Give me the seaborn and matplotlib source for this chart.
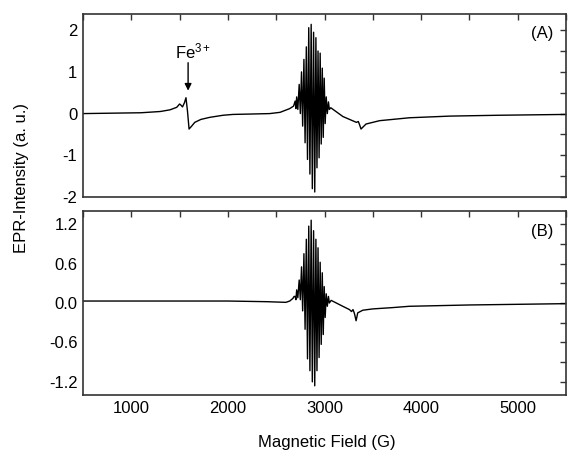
import pandas as pd
import matplotlib
matplotlib.use("Agg")
import matplotlib.pyplot as plt
from matplotlib.ticker import MultipleLocator, FormatStrFormatter
import seaborn as sns

# Panel (A): EPR spectrum with the Fe3+ signal near 1580 G
field_a = [500, 800, 1100, 1300, 1400, 1470, 1500, 1515, 1530, 1550, 1566,
           1582, 1598, 1625, 1657, 1720, 1812, 1950, 2053, 2250, 2432, 2540,
           2640, 2680,
           2696, 2704, 2712, 2724, 2738, 2750, 2762, 2774, 2787, 2799, 2812,
           2824, 2837, 2849, 2862, 2874, 2887, 2899, 2911, 2922, 2933, 2944,
           2955, 2966, 2977, 2987, 2997, 3007, 3018, 3029, 3041, 3050,
           3065, 3190, 3330, 3350, 3362, 3378, 3430, 3570, 3880, 4300, 4800,
           5500]
intensity_a = [0.0, 0.01, 0.02, 0.05, 0.09, 0.15, 0.23, 0.20, 0.16, 0.26, 0.38,
               0.05, -0.37, -0.30, -0.21, -0.14, -0.09, -0.04, -0.02, -0.01,
               0.0, 0.03, 0.12, 0.18,
               0.30, 0.12, 0.40, 0.10, 0.70, 0.00, 1.00, -0.30, 1.30, -0.70,
               1.60, -1.10, 2.06, -1.45, 2.14, -1.80, 1.95, -1.88, 1.82, -1.30,
               1.50, -1.06, 1.45, -0.73, 1.09, -0.57, 0.85, -0.24, 0.40, 0.00,
               0.28, 0.10,
               0.14, -0.07, -0.21, -0.19, -0.26, -0.37, -0.25, -0.17, -0.10,
               -0.06, -0.04, -0.02]

# Panel (B): EPR spectrum without the Fe3+ signal
field_b = [500, 1000, 1500, 2000, 2400, 2600, 2640, 2673, 2685,
           2696, 2704, 2712, 2724, 2738, 2750, 2762, 2774, 2787, 2799, 2812,
           2824, 2837, 2849, 2862, 2874, 2887, 2899, 2911, 2922, 2933, 2944,
           2955, 2966, 2977, 2987, 2997, 3007, 3018, 3029, 3041, 3050,
           3069, 3189, 3258, 3280, 3295, 3310, 3327, 3344, 3396, 3499, 3706,
           3878, 4500, 5500]
intensity_b = [0.03, 0.03, 0.03, 0.03, 0.02, 0.01, 0.03, 0.07, 0.10,
               0.10, 0.05, 0.20, 0.08, 0.35, 0.05, 0.55, -0.12, 0.75, -0.40,
               0.97, -0.85, 1.17, -1.03, 1.26, -1.20, 1.10, -1.26, 0.97, -1.03,
               0.84, -0.83, 0.62, -0.63, 0.46, -0.48, 0.25, -0.22, 0.14, -0.05,
               0.10, 0.00,
               0.04, -0.05, -0.10, -0.13, -0.10, -0.16, -0.27, -0.15, -0.11,
               -0.09, -0.07, -0.05, -0.03, -0.01]

df_a = pd.DataFrame({"field": field_a, "intensity": intensity_a})
df_b = pd.DataFrame({"field": field_b, "intensity": intensity_b})

sns.set_style("white")
plt.rcParams["font.family"] = ["Liberation Sans", "DejaVu Sans"]
plt.rcParams["mathtext.fontset"] = "custom"
plt.rcParams["mathtext.rm"] = "Liberation Sans"
plt.rcParams["mathtext.it"] = "Liberation Sans"
plt.rcParams["axes.unicode_minus"] = False
plt.rcParams["text.color"] = "black"
plt.rcParams["xtick.labelcolor"] = "black"
plt.rcParams["ytick.labelcolor"] = "black"

W, H = 568, 453
fig = plt.figure(figsize=(W / 100, H / 100), dpi=100)
left, right = 83, 566
ax_a = fig.add_axes([left / W, 1 - 197 / H, (right - left) / W, 183.5 / H])
ax_b = fig.add_axes([left / W, 1 - 395 / H, (right - left) / W, 184 / H])

frame_color = "#333333"
for ax, df in ((ax_a, df_a), (ax_b, df_b)):
    sns.lineplot(data=df, x="field", y="intensity", ax=ax, color="black",
                 linewidth=1.0, estimator=None, sort=False)
    ax.set_xlim(500, 5500)
    ax.xaxis.set_major_locator(MultipleLocator(1000))
    ax.xaxis.set_minor_locator(MultipleLocator(500))
    for side in ax.spines.values():
        side.set_color(frame_color)
        side.set_linewidth(1.2)
    ax.tick_params(which="both", direction="in", top=True, right=True,
                   length=4.5, width=1.0, color=frame_color,
                   labelcolor="black", labelsize=12, pad=4)
    ax.set_xlabel("")
    ax.set_ylabel("")

ax_a.set_ylim(-2, 2.4)
ax_a.yaxis.set_major_locator(MultipleLocator(1))
ax_a.yaxis.set_minor_locator(MultipleLocator(0.5))
ax_a.tick_params(axis="x", labelbottom=False)

ax_b.set_ylim(-1.4, 1.4)
ax_b.yaxis.set_major_locator(MultipleLocator(0.6))
ax_b.yaxis.set_minor_locator(MultipleLocator(0.3))
ax_b.yaxis.set_major_formatter(FormatStrFormatter("%.1f"))

ax_a.text(0.95, 0.89, "(A)", transform=ax_a.transAxes, ha="center",
          va="center", fontsize=12, color="black")
ax_b.text(0.95, 0.89, "(B)", transform=ax_b.transAxes, ha="center",
          va="center", fontsize=12, color="black")

ax_a.text(1645, 1.26, "Fe$^{3+}$", ha="center", va="bottom", fontsize=12,
          color="black")
ax_a.annotate("", xy=(1588, 0.55), xytext=(1588, 1.22),
              arrowprops=dict(arrowstyle="-|>", color="black", lw=1.0,
                              mutation_scale=10, shrinkA=0, shrinkB=0))

fig.text(327 / W, 1 - 443 / H, "Magnetic Field (G)", ha="center",
         va="center", fontsize=12, color="black")
fig.text(22 / W, 1 - 178 / H, "EPR-Intensity (a. u.)", ha="center",
         va="center", rotation=90, fontsize=12, color="black")

fig.savefig("out.png", dpi=100, facecolor="white")
